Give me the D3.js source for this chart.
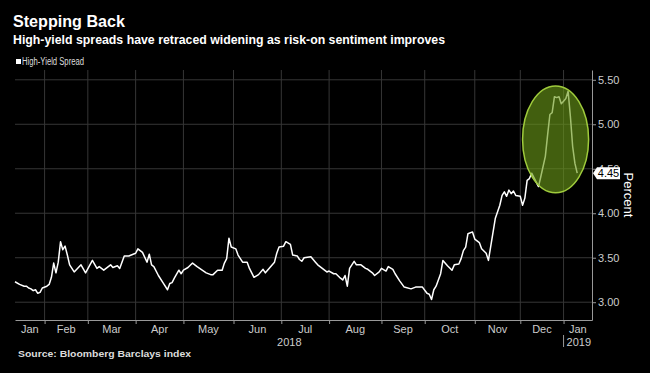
<!DOCTYPE html>
<html>
<head>
<meta charset="utf-8">
<script src="https://cdn.jsdelivr.net/npm/d3@7"></script>
<style>
  html, body { margin: 0; padding: 0; background: #000; }
  svg { display: block; }
</style>
</head>
<body>
<svg id="chart" width="650" height="373"></svg>
<script>
// High-yield spread (trading days only)
var dates = [
    "2018-01-12", "2018-01-17", "2018-01-19", "2018-01-22", "2018-01-23", "2018-01-24", "2018-01-25", "2018-01-26", "2018-01-29", "2018-01-30", "2018-01-31",
    "2018-02-02", "2018-02-05", "2018-02-06", "2018-02-07", "2018-02-08", "2018-02-09", "2018-02-12", "2018-02-13", "2018-02-14", "2018-02-15", "2018-02-16", "2018-02-21", "2018-02-26", "2018-02-28",
    "2018-03-05", "2018-03-07", "2018-03-08", "2018-03-12", "2018-03-15", "2018-03-16", "2018-03-20", "2018-03-21", "2018-03-23", "2018-03-27",
    "2018-04-02", "2018-04-03", "2018-04-05", "2018-04-09", "2018-04-10", "2018-04-11", "2018-04-12", "2018-04-16", "2018-04-18", "2018-04-20", "2018-04-23", "2018-04-24", "2018-04-25", "2018-04-27", "2018-04-30",
    "2018-05-01", "2018-05-03", "2018-05-07", "2018-05-09", "2018-05-15", "2018-05-17", "2018-05-18", "2018-05-22", "2018-05-24", "2018-05-25", "2018-05-29", "2018-05-30", "2018-05-31",
    "2018-06-04", "2018-06-05", "2018-06-07", "2018-06-11", "2018-06-12", "2018-06-14", "2018-06-18", "2018-06-20", "2018-06-21", "2018-06-25", "2018-06-27", "2018-06-28", "2018-06-29",
    "2018-07-03", "2018-07-05", "2018-07-09", "2018-07-10", "2018-07-12", "2018-07-13", "2018-07-16", "2018-07-17", "2018-07-20", "2018-07-24", "2018-07-25", "2018-07-27", "2018-07-31",
    "2018-08-01", "2018-08-03", "2018-08-06", "2018-08-08", "2018-08-09", "2018-08-10", "2018-08-13", "2018-08-14", "2018-08-16", "2018-08-17", "2018-08-21", "2018-08-23", "2018-08-24", "2018-08-28", "2018-08-29", "2018-08-31",
    "2018-09-04", "2018-09-06", "2018-09-07", "2018-09-11", "2018-09-12", "2018-09-14", "2018-09-18", "2018-09-21", "2018-09-25", "2018-09-27", "2018-09-28",
    "2018-10-02", "2018-10-03", "2018-10-04", "2018-10-05", "2018-10-09", "2018-10-11", "2018-10-12", "2018-10-16", "2018-10-18", "2018-10-19", "2018-10-23", "2018-10-24", "2018-10-25", "2018-10-26", "2018-10-29", "2018-10-31",
    "2018-11-01", "2018-11-05", "2018-11-06", "2018-11-08", "2018-11-09", "2018-11-15", "2018-11-19", "2018-11-20", "2018-11-21", "2018-11-23", "2018-11-26", "2018-11-27", "2018-11-28", "2018-11-29",
    "2018-12-03", "2018-12-04", "2018-12-06", "2018-12-07", "2018-12-10", "2018-12-11", "2018-12-13", "2018-12-14", "2018-12-17", "2018-12-19", "2018-12-20", "2018-12-21", "2018-12-24", "2018-12-26", "2018-12-27", "2018-12-28", "2018-12-31",
    "2019-01-02", "2019-01-03", "2019-01-04", "2019-01-07", "2019-01-08", "2019-01-09", "2019-01-10"
];

var spread = [
    3.23, 3.20, 3.18, 3.18, 3.16, 3.15, 3.13, 3.14, 3.10, 3.11, 3.16,
    3.18, 3.20, 3.28, 3.44, 3.33, 3.45, 3.68, 3.59, 3.63, 3.53, 3.42, 3.34, 3.42, 3.33,
    3.47, 3.38, 3.40, 3.36, 3.42, 3.39, 3.41, 3.38, 3.52, 3.52,
    3.55, 3.60, 3.56, 3.45, 3.54, 3.42, 3.40, 3.30, 3.22, 3.14, 3.21, 3.22, 3.27, 3.36, 3.32,
    3.36, 3.39, 3.44, 3.40, 3.33, 3.31, 3.31, 3.36, 3.36, 3.44, 3.49, 3.72, 3.62,
    3.60, 3.53, 3.45, 3.45, 3.38, 3.28, 3.31, 3.37, 3.33, 3.39, 3.45, 3.55, 3.62,
    3.63, 3.68, 3.65, 3.53, 3.52, 3.48, 3.46, 3.50, 3.51, 3.45, 3.42, 3.38, 3.34,
    3.35, 3.32, 3.32, 3.27, 3.25, 3.30, 3.18, 3.38, 3.46, 3.42, 3.42, 3.38, 3.37, 3.33, 3.30, 3.34,
    3.38, 3.35, 3.40, 3.37, 3.32, 3.24, 3.17, 3.15, 3.17, 3.17, 3.17,
    3.10, 3.09, 3.03, 3.14, 3.18, 3.32, 3.47, 3.41, 3.36, 3.42, 3.43, 3.49, 3.58, 3.62, 3.77, 3.79,
    3.71, 3.67, 3.60, 3.55, 3.47, 3.94, 4.09, 4.20, 4.24, 4.19, 4.26, 4.22, 4.25, 4.20,
    4.19, 4.09, 4.17, 4.37, 4.39, 4.45, 4.35, 4.30, 4.41, 4.64, 4.88, 5.11, 5.13, 5.31, 5.30, 5.31, 5.23,
    5.26, 5.29, 5.37, 5.09, 4.75, 4.56, 4.45
];

// Market holidays, skipped by the trading-day axis
var holidays = [
    "2018-01-15", "2018-02-19", "2018-03-30", "2018-05-28", "2018-07-04", "2018-09-03",
    "2018-10-08", "2018-11-12", "2018-11-22", "2018-12-05", "2018-12-25", "2019-01-01"
];

var yTicks = [3.0, 3.5, 4.0, 4.5, 5.0, 5.5];
var yDomain = [2.8, 5.61];
var axisDates = ["2018-01-12", "2019-01-18"];

// Circled region: dates and values it spans
var highlightDates = ["2018-12-04", "2019-01-17"];
var highlightValues = [4.23, 5.43];

var svg = d3.select("#chart"),
    parse = d3.timeParse("%Y-%m-%d"),
    fmtDay = d3.timeFormat("%Y-%m-%d"),
    holidaySet = new Set(holidays),
    start = parse(axisDates[0]),
    end = parse(axisDates[1]),
    plotLeft = 15,
    plotRight = 592,
    plotTop = 70,
    plotBottom = 320,
    font = "'Liberation Sans', Arial, sans-serif";

function isTradingDay(d) {
    var wd = d.getDay();
    return wd !== 0 && wd !== 6 && !holidaySet.has(fmtDay(d));
}

// number of trading days before a date
function tradeIndex(d) {
    return d3.timeDay.range(start, d).filter(isTradingDay).length;
}

var x = d3.scaleLinear()
    .domain([0, tradeIndex(end) + 0.5])
    .range([plotLeft, plotRight]);

var y = d3.scaleLinear()
    .domain(yDomain)
    .range([plotBottom, plotTop]);

var data = dates.map(function(d, i) {
    return { date: parse(d), value: spread[i] };
});

// month boundaries
var months = d3.timeMonth.range(d3.timeMonth.ceil(start), end),
    bounds = [start].concat(months);

// Title block
svg.append("text")
    .attr("x", 13).attr("y", 27)
    .attr("textLength", 112).attr("lengthAdjust", "spacingAndGlyphs")
    .style("font-family", font)
    .style("font-weight", "bold").style("font-size", "17px")
    .style("fill", "#fff")
    .text("Stepping Back");

svg.append("text")
    .attr("x", 13).attr("y", 44)
    .attr("textLength", 432).attr("lengthAdjust", "spacingAndGlyphs")
    .style("font-family", font)
    .style("font-weight", "bold").style("font-size", "13px")
    .style("fill", "#fff")
    .text("High-yield spreads have retraced widening as risk-on sentiment improves");

// Legend
svg.append("rect")
    .attr("x", 16).attr("y", 59).attr("width", 5).attr("height", 5)
    .style("fill", "#fff");

svg.append("text")
    .attr("x", 22).attr("y", 65)
    .attr("textLength", 62).attr("lengthAdjust", "spacingAndGlyphs")
    .style("font-family", font)
    .style("font-size", "10px")
    .style("fill", "#ddd")
    .text("High-Yield Spread");

// Grid
var grid = svg.append("g").attr("class", "grid");

grid.selectAll(".hgrid")
    .data(yTicks)
    .enter()
    .append("line")
    .attr("x1", plotLeft).attr("x2", plotRight)
    .attr("y1", function(d) { return y(d); })
    .attr("y2", function(d) { return y(d); })
    .style("stroke", "#363636")
    .style("stroke-width", 1);

grid.selectAll(".vgrid")
    .data(months)
    .enter()
    .append("line")
    .attr("x1", function(d) { return x(tradeIndex(d)); })
    .attr("x2", function(d) { return x(tradeIndex(d)); })
    .attr("y1", plotTop).attr("y2", plotBottom)
    .style("stroke", "#363636")
    .style("stroke-width", 1);

// Series line
var line = d3.line()
    .x(function(d) { return x(tradeIndex(d.date)); })
    .y(function(d) { return y(d.value); });

svg.append("path")
    .datum(data)
    .attr("d", line)
    .style("fill", "none")
    .style("stroke", "#fff")
    .style("stroke-width", 1.5)
    .style("stroke-linejoin", "round");

// Highlight ellipse over the year-end spike
var hx0 = x(tradeIndex(parse(highlightDates[0]))),
    hx1 = x(tradeIndex(parse(highlightDates[1]))),
    hy0 = y(highlightValues[1]),
    hy1 = y(highlightValues[0]);

svg.append("ellipse")
    .attr("cx", (hx0 + hx1) / 2)
    .attr("cy", (hy0 + hy1) / 2)
    .attr("rx", (hx1 - hx0) / 2)
    .attr("ry", (hy1 - hy0) / 2)
    .style("fill", "#6a9a18")
    .style("fill-opacity", 0.62)
    .style("stroke", "#9fcb3c")
    .style("stroke-width", 1.5);

// Right axis
var yAxis = svg.append("g")
    .attr("transform", "translate(" + plotRight + ",0)")
    .call(d3.axisRight(y)
        .tickValues(yTicks)
        .tickFormat(d3.format(".2f"))
        .tickSize(4)
        .tickSizeOuter(0)
        .tickPadding(2));

yAxis.select(".domain").style("stroke", "#999");
yAxis.selectAll(".tick line").style("stroke", "#999");
yAxis.selectAll(".tick text")
    .style("font-family", font)
    .style("font-size", "11px")
    .style("fill", "#ccc");

// Bottom axis with month boundary ticks
var xAxis = svg.append("g")
    .attr("transform", "translate(0," + plotBottom + ")")
    .call(d3.axisBottom(x)
        .tickValues(months.map(tradeIndex))
        .tickFormat("")
        .tickSize(4)
        .tickSizeOuter(0));

xAxis.select(".domain").style("stroke", "#999");
xAxis.selectAll(".tick line").style("stroke", "#999");

// Month labels centred in each month span
var monthFmt = d3.timeFormat("%b"),
    xEnd = x.domain()[1];

svg.selectAll(".monthLabel")
    .data(bounds)
    .enter()
    .append("text")
    .attr("x", function(d, i) {
        var nextIdx = i < bounds.length - 1 ? tradeIndex(bounds[i + 1]) : xEnd;
        return (x(tradeIndex(d)) + x(nextIdx)) / 2;
    })
    .attr("y", 333)
    .attr("text-anchor", "middle")
    .style("font-family", font)
    .style("font-size", "11px")
    .style("fill", "#ccc")
    .text(function(d) { return monthFmt(d); });

// Year labels
var yearStart = d3.timeYear.ceil(start),
    xYear = x(tradeIndex(yearStart));

svg.append("text")
    .attr("x", (plotLeft + xYear) / 2).attr("y", 346)
    .attr("text-anchor", "middle")
    .style("font-family", font)
    .style("font-size", "11px")
    .style("fill", "#ccc")
    .text(d3.timeFormat("%Y")(start));

svg.append("line")
    .attr("x1", xYear).attr("x2", xYear)
    .attr("y1", 335).attr("y2", 347)
    .style("stroke", "#999");

svg.append("text")
    .attr("x", (xYear + plotRight) / 2 + 1).attr("y", 346)
    .attr("text-anchor", "middle")
    .style("font-family", font)
    .style("font-size", "11px")
    .style("fill", "#ccc")
    .text(d3.timeFormat("%Y")(yearStart));

// Last value tag (covers the 4.50 tick label as in the original)
var last = spread[spread.length - 1],
    ly = y(last),
    tag = svg.append("g");

tag.append("path")
    .attr("d", "M" + (plotRight + 1) + "," + ly +
        "L" + (plotRight + 5) + "," + (ly - 6) +
        "L" + (plotRight + 28) + "," + (ly - 6) +
        "L" + (plotRight + 28) + "," + (ly + 6) +
        "L" + (plotRight + 5) + "," + (ly + 6) + "Z")
    .style("fill", "#fff");

tag.append("text")
    .attr("x", plotRight + 16.5).attr("y", ly + 4)
    .attr("text-anchor", "middle")
    .style("font-family", font)
    .style("font-size", "11px")
    .style("fill", "#000")
    .text(d3.format(".2f")(last));

// Axis title
svg.append("text")
    .attr("transform", "translate(624," + ((plotTop + plotBottom) / 2) + ") rotate(90)")
    .attr("text-anchor", "middle")
    .style("font-family", font)
    .style("font-size", "13px")
    .style("fill", "#fff")
    .text("Percent");

// Source
svg.append("text")
    .attr("x", 18).attr("y", 357)
    .attr("textLength", 173).attr("lengthAdjust", "spacingAndGlyphs")
    .style("font-family", font)
    .style("font-weight", "bold").style("font-size", "9.5px")
    .style("fill", "#ddd")
    .text("Source: Bloomberg Barclays index");
</script>
</body>
</html>
